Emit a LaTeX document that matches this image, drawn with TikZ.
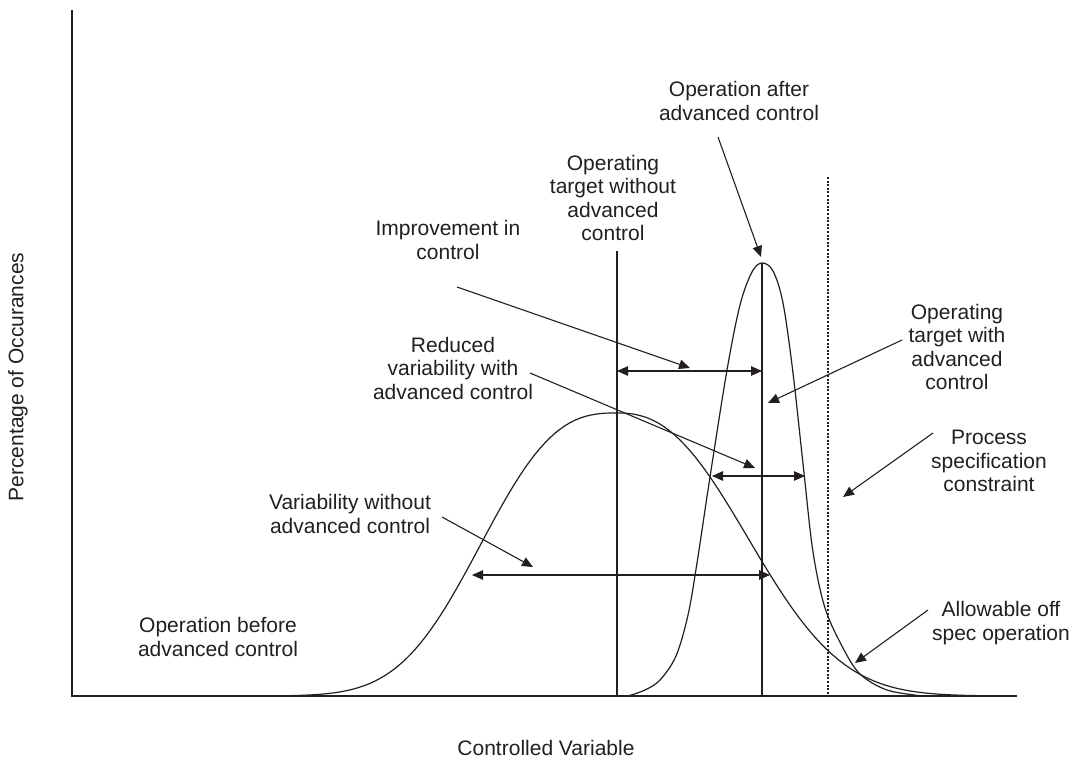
\documentclass[tikz,border=0pt]{standalone}
\usepackage{fontspec}
\setmainfont{Liberation Sans}
\usetikzlibrary{arrows.meta}
\definecolor{ink}{HTML}{231F20}
\begin{document}
\begin{tikzpicture}[x=1pt,y=-1pt,
  lbl/.style={align=center, font=\fontsize{21}{23.5}\selectfont, inner sep=0pt, text=ink},
  axisline/.style={line width=1.6pt, draw=ink},
  crv/.style={line width=1.2pt, draw=ink, line join=round},
  guide/.style={line width=1.2pt, draw=ink},
  ptr/.style={line width=1.1pt, draw=ink, -{Triangle[length=11pt,width=9.5pt]}},
  dbl/.style={line width=1.1pt, draw=ink, {Triangle[length=11pt,width=9.5pt]}-{Triangle[length=11pt,width=9.5pt]}}]
\useasboundingbox (0,0) rectangle (1074,759);

% axes
\coordinate (ytop) at (72,10);
\coordinate (orig) at (72,696);
\coordinate (xend) at (1017,696);
\draw[axisline] (ytop) -- (orig) -- (xend);

% distribution before advanced control (wide, rounded top)
\coordinate (widepeak) at (617,413);
\draw[crv]
  plot[domain=275:615, samples=69] (\x,{696-283*exp(-((617-\x)/162.3)^2.7)})
  -- (widepeak) --
  plot[domain=619:980, samples=73] (\x,{696-283*exp(-((\x-617)/164)^2.4)});

% distribution after advanced control (narrow, long right tail)
\draw[crv] plot[smooth, tension=0.55] coordinates {
  (628,696) (645,690) (660,680) (676,656) (688,615) (697,563) (710,477)
  (727,370) (740,305) (752,272) (762,263) (773,271) (783,303) (793,373)
  (804,473) (813,552) (825,608) (843,648) (860,674) (887,690) (923,696)};

% operating targets and specification limit
\coordinate (t0top) at (617,251);
\coordinate (t0bot) at (617,696);
\coordinate (t1top) at (762,263);
\coordinate (t1bot) at (762,696);
\coordinate (sptop) at (828,177);
\coordinate (spbot) at (828,696);
\draw[guide] (t0top) -- (t0bot);
\draw[guide] (t1top) -- (t1bot);
\draw[line width=1.1pt, draw=ink, dash pattern=on 2pt off 1.6pt] (sptop) -- (spbot);

% labels
\node[lbl] (after) at (739,101) {Operation after\\advanced control};
\node[lbl] (tgtwo) at (613,198) {Operating\\target without\\advanced\\control};
\node[lbl] (impr) at (448,240) {Improvement in\\control};
\node[lbl] (redv) at (453,368) {Reduced\\variability with\\advanced control};
\node[lbl] (tgtw) at (957,347) {Operating\\target with\\advanced\\control};
\node[lbl] (spec) at (989,461) {Process\\specification\\constraint};
\node[lbl] (offs) at (1001,623) {Allowable off\\spec operation};
\node[lbl] (before) at (218,637) {Operation before\\advanced control};
\node[lbl] (varwo) at (350,514) {Variability without\\advanced control};
\node[lbl, rotate=90] (ylab) at (18,377) {Percentage of Occurances};
\node[lbl] (xlab) at (546,748) {Controlled Variable};

% pointers
\coordinate (p1s) at (718,137);  \coordinate (p1e) at (761,257);
\coordinate (p2s) at (457,287);  \coordinate (p2e) at (690,368);
\coordinate (p3s) at (530,373);  \coordinate (p3e) at (755,468);
\coordinate (p4s) at (902,340);  \coordinate (p4e) at (768,403);
\coordinate (p5s) at (933,433);  \coordinate (p5e) at (843,497);
\coordinate (p6s) at (928,610);  \coordinate (p6e) at (855,663);
\coordinate (p7s) at (442,517);  \coordinate (p7e) at (533,567);
\draw[ptr] (p1s) -- (p1e);
\draw[ptr] (p2s) -- (p2e);
\draw[ptr] (p3s) -- (p3e);
\draw[ptr] (p4s) -- (p4e);
\draw[ptr] (p5s) -- (p5e);
\draw[ptr] (p6s) -- (p6e);
\draw[ptr] (p7s) -- (p7e);

% spans
\coordinate (d1a) at (617,371); \coordinate (d1b) at (762,371);
\coordinate (d2a) at (712,476); \coordinate (d2b) at (805,476);
\coordinate (d3a) at (472,575); \coordinate (d3b) at (770,575);
\draw[dbl] (d1a) -- (d1b);
\draw[dbl] (d2a) -- (d2b);
\draw[dbl] (d3a) -- (d3b);
\end{tikzpicture}
\end{document}
